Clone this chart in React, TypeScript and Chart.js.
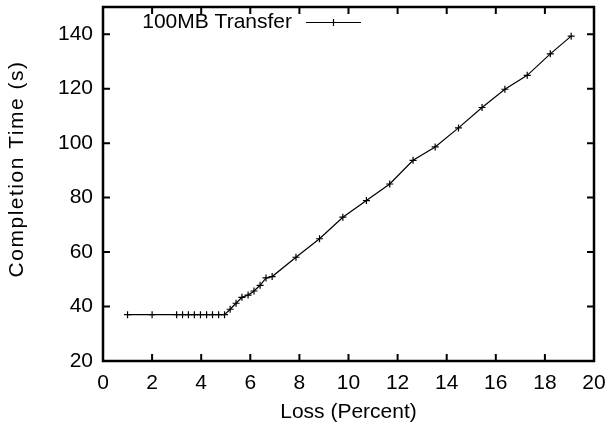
import React, { useEffect, useRef } from "react";
import { Chart, registerables } from "chart.js";

Chart.register(...registerables);

const lossPercent = [
  1, 2, 3, 3.24, 3.48, 3.72, 3.97, 4.22, 4.46, 4.71, 4.95, 5.18, 5.42, 5.66,
  5.91, 6.15, 6.4, 6.64, 6.89, 7.86, 8.82, 9.77, 10.73, 11.68, 12.63, 13.53,
  14.48, 15.44, 16.37, 17.28, 18.22, 19.07,
];
const completionTime = [
  37, 37, 37, 37, 37, 37, 37, 37, 37, 37, 37, 39.0, 41.2, 43.4, 44.2, 45.7,
  47.8, 50.5, 51.0, 58.1, 64.9, 72.8, 78.9, 85.0, 93.7, 98.6, 105.6, 113.1,
  119.8, 124.9, 132.8, 139.3,
];
const xTicks = [0, 2, 4, 6, 8, 10, 12, 14, 16, 18, 20];
const yTicks = [20, 40, 60, 80, 100, 120, 140];
const seriesLabel = "100MB Transfer";
const xTitle = "Loss (Percent)";
const yTitle = "Completion Time (s)";

const FONT = '"Liberation Sans", Arial, Helvetica, sans-serif';

const framePlugin = {
  id: "gnuplotFrame",
  afterDraw(chart: any) {
    const { ctx, chartArea, scales } = chart;
    const { left, right, top, bottom } = chartArea;
    const xs = scales.x;
    const ys = scales.y;
    ctx.save();
    ctx.strokeStyle = "#000";
    ctx.fillStyle = "#000";
    ctx.lineWidth = 2;
    const tl = 7;
    ctx.beginPath();
    xTicks.forEach((v) => {
      const px = xs.getPixelForValue(v);
      ctx.moveTo(px, bottom);
      ctx.lineTo(px, bottom - tl);
      ctx.moveTo(px, top);
      ctx.lineTo(px, top + tl);
    });
    yTicks.forEach((v) => {
      const py = ys.getPixelForValue(v);
      ctx.moveTo(left, py);
      ctx.lineTo(left + tl, py);
      ctx.moveTo(right, py);
      ctx.lineTo(right - tl, py);
    });
    ctx.stroke();
    ctx.lineWidth = 2.5;
    ctx.strokeRect(left, top, right - left, bottom - top);

    // legend
    const ly = top + 15.5;
    ctx.font = `21px ${FONT}`;
    ctx.textAlign = "right";
    ctx.textBaseline = "middle";
    ctx.fillText(seriesLabel, left + 189, ly);
    ctx.lineWidth = 1.2;
    ctx.beginPath();
    ctx.moveTo(left + 203, ly);
    ctx.lineTo(left + 258, ly);
    const cx = left + 230.5;
    ctx.moveTo(cx - 3.5, ly);
    ctx.lineTo(cx + 3.5, ly);
    ctx.moveTo(cx, ly - 3.5);
    ctx.lineTo(cx, ly + 3.5);
    ctx.stroke();

    // y title
    ctx.translate(17.5, 169);
    ctx.rotate(-Math.PI / 2);
    ctx.textAlign = "center";
    ctx.textBaseline = "middle";
    (ctx as any).letterSpacing = "1.5px";
    ctx.fillText(yTitle, 0, 0);
    (ctx as any).letterSpacing = "0px";
    ctx.restore();
  },
};

export default function App() {
  const canvasRef = useRef<HTMLCanvasElement | null>(null);

  useEffect(() => {
    if (!canvasRef.current) return;
    const points = lossPercent.map((x, i) => ({ x, y: completionTime[i] }));
    const chart = new Chart(canvasRef.current, {
      type: "scatter",
      data: {
        datasets: [
          {
            label: seriesLabel,
            data: points,
            showLine: true,
            borderColor: "#000",
            backgroundColor: "#000",
            borderWidth: 1.2,
            pointStyle: "cross",
            pointRadius: 3.5,
            pointBorderWidth: 1.2,
            pointBorderColor: "#000",
          },
        ],
      },
      options: {
        responsive: false,
        animation: false,
        layout: { padding: { left: 0, right: 15, top: 0, bottom: 0 } },
        plugins: {
          legend: { display: false },
          tooltip: { enabled: false },
        },
        scales: {
          x: {
            type: "linear",
            min: 0,
            max: 20,
            afterBuildTicks: (s: any) => {
              s.ticks = xTicks.map((v) => ({ value: v }));
            },
            afterFit: (s: any) => {
              s.height = 66;
            },
            ticks: {
              stepSize: 2,
              padding: 0,
              color: "#000",
              font: { family: FONT, size: 21 },
              maxRotation: 0,
              autoSkip: false,
            },
            grid: {
              display: true,
              drawOnChartArea: false,
              drawTicks: true,
              tickLength: 10,
              color: "rgba(0,0,0,0)",
            },
            border: { display: false },
            title: {
              display: true,
              text: xTitle,
              color: "#000",
              font: { family: FONT, size: 21 },
              padding: { top: 0, bottom: 2 },
            },
          },
          y: {
            type: "linear",
            min: 20,
            max: 150,
            afterBuildTicks: (s: any) => {
              s.ticks = yTicks.map((v) => ({ value: v }));
            },
            afterFit: (s: any) => {
              s.width = 103;
            },
            ticks: {
              stepSize: 20,
              padding: 0,
              color: "#000",
              font: { family: FONT, size: 21, lineHeight: 0.667 },
              autoSkip: false,
            },
            grid: {
              display: true,
              drawOnChartArea: false,
              drawTicks: true,
              tickLength: 10,
              color: "rgba(0,0,0,0)",
            },
            border: { display: false },
            title: { display: false },
          },
        },
      },
      plugins: [framePlugin],
    });
    return () => chart.destroy();
  }, []);

  return (
    <div style={{ position: "absolute", left: 0, top: 0, width: 609, height: 427, background: "#fff" }}>
      <canvas ref={canvasRef} width={609} height={427} />
    </div>
  );
}
